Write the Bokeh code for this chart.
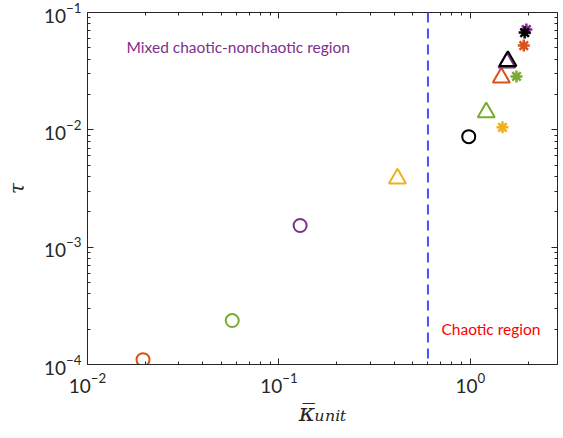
from bokeh.plotting import figure
from bokeh.models import LogAxis, FixedTicker, Label, Span, LogTickFormatter, CustomJSTickFormatter
from bokeh.embed import file_html
from bokeh.resources import INLINE

ORANGE = "#D95319"; YELLOW = "#EDB120"; PURPLE = "#7E2F8E"; GREEN = "#77AC30"; BLACK = "#000000"

circle_x = [0.0195, 0.057, 0.129, 0.98]
circle_tau = [1.1e-4, 2.37e-4, 1.53e-3, 8.75e-3]
circle_colors = [ORANGE, GREEN, PURPLE, BLACK]

triangle_x = [0.416, 1.21, 1.45, 1.55, 1.57]
triangle_tau = [3.85e-3, 0.0141, 0.0279, 0.0375, 0.0385]
triangle_colors = [YELLOW, GREEN, ORANGE, PURPLE, BLACK]

star_x = [1.47, 1.74, 1.90, 1.96, 1.92]
star_tau = [0.0105, 0.0285, 0.0523, 0.0716, 0.0675]
star_colors = [YELLOW, GREEN, ORANGE, PURPLE, BLACK]

boundary_x = 0.6

x_major = [0.01, 0.1, 1.0]
x_minor = [m * d for d in (0.01, 0.1, 1.0) for m in range(2, 10) if m * d < 2.85]
y_major = [1e-4, 1e-3, 1e-2, 1e-1]
y_minor = [m * d for d in (1e-4, 1e-3, 1e-2) for m in range(2, 10)]

FONT = "Lato"
p = figure(width=563, height=438, x_axis_type="log", y_axis_type="log",
           x_range=(0.01, 2.85), y_range=(1e-4, 1e-1),
           output_backend="svg", toolbar_location=None,
           min_border_left=87, min_border_right=6, min_border_top=12, min_border_bottom=74)
p.background_fill_color = "white"
p.border_fill_color = "white"
p.outline_line_color = None
p.grid.visible = False

def style_axis(ax, ticks, minor, labels=True):
    ax.ticker = FixedTicker(ticks=ticks, minor_ticks=minor)
    ax.major_tick_in = 6
    ax.major_tick_out = 0
    ax.minor_tick_in = 3
    ax.minor_tick_out = 0
    ax.axis_line_color = "#262626"
    ax.major_tick_line_color = "#262626"
    ax.minor_tick_line_color = "#262626"
    ax.axis_line_width = 1
    if labels:
        ax.formatter = LogTickFormatter()
        ax.major_label_text_font = FONT
        ax.major_label_text_font_size = "19px"
        ax.major_label_text_color = "#262626"
    else:
        ax.formatter = CustomJSTickFormatter(code="return ''")
        ax.major_label_standoff = 0

style_axis(p.xaxis[0], x_major, x_minor)
style_axis(p.yaxis[0], y_major, y_minor)
p.xaxis[0].major_label_standoff = 8
p.yaxis[0].major_label_standoff = 6

p.yaxis[0].axis_label = "τ"
p.yaxis[0].axis_label_text_font = "DejaVu Serif"
p.yaxis[0].axis_label_text_font_style = "italic"
p.yaxis[0].axis_label_text_font_size = "20px"
p.yaxis[0].axis_label_text_color = "#262626"
p.yaxis[0].axis_label_standoff = 12

p.xaxis[0].axis_label = "κ\u0305\u1d64\u2099\u1d62\u209c"
p.xaxis[0].axis_label_text_font = "DejaVu Serif"
p.xaxis[0].axis_label_text_font_style = "italic"
p.xaxis[0].axis_label_text_font_size = "25px"
p.xaxis[0].axis_label_text_color = "#262626"
p.xaxis[0].axis_label_standoff = 2

top = LogAxis()
right = LogAxis()
style_axis(top, x_major, x_minor, labels=False)
style_axis(right, y_major, y_minor, labels=False)
p.add_layout(top, "above")
p.add_layout(right, "right")

p.add_layout(Span(location=boundary_x, dimension="height", line_color="#4a4aff",
                  line_width=2, line_dash="10 6"))

p.scatter(circle_x, circle_tau, marker="circle", size=13, fill_color=None,
          line_color=circle_colors, line_width=2)
p.scatter(triangle_x, triangle_tau, marker="triangle", size=17, fill_color=None,
          line_color=triangle_colors, line_width=2)
p.scatter(star_x, star_tau, marker="asterisk", size=12, fill_color=None,
          line_color=star_colors, line_width=2.5)

p.add_layout(Label(x=0.016, y=0.0513, text="Mixed chaotic-nonchaotic region",
                   text_color=PURPLE, text_font=FONT, text_font_size="15.5px",
                   text_baseline="middle", text_align="left"))
p.add_layout(Label(x=0.706, y=2.02e-4, text="Chaotic region",
                   text_color="#ff0000", text_font=FONT, text_font_size="15.5px",
                   text_baseline="middle", text_align="left"))

open("out.html", "w").write(file_html(p, INLINE))
